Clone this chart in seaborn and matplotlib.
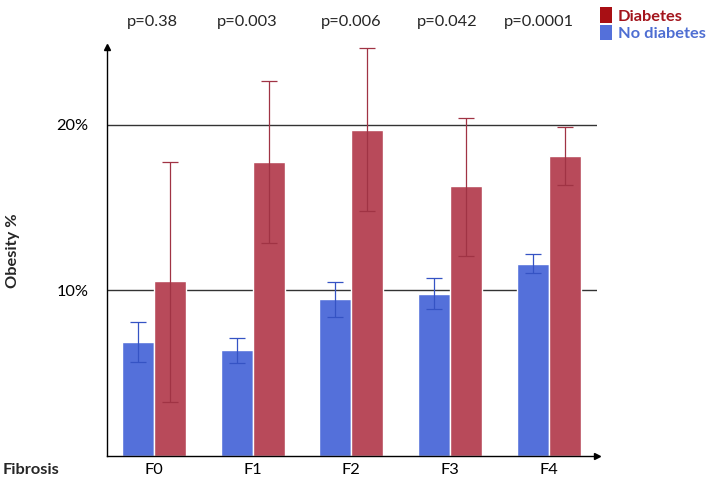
import matplotlib
matplotlib.use("Agg")
import matplotlib.pyplot as plt
import seaborn as sns
import pandas as pd
from matplotlib.patches import Patch

categories = ["F0", "F1", "F2", "F3", "F4"]
no_diab = [6.9, 6.4, 9.5, 9.8, 11.6]
no_diab_lo = [5.65, 5.63, 8.40, 8.85, 11.02]
no_diab_hi = [8.08, 7.14, 10.49, 10.72, 12.20]
diab = [10.55, 17.75, 19.7, 16.3, 18.1]
diab_lo = [3.28, 12.83, 14.76, 12.10, 16.36]
diab_hi = [17.75, 22.66, 24.65, 20.41, 19.84]
p_values = ["p=0.38", "p=0.003", "p=0.006", "p=0.042", "p=0.0001"]
y_ticks = [10, 20]
y_tick_labels = ["10%", "20%"]

BLUE = "#5470DA"
RED = "#B84A5A"
BLUE_ERR = "#3553C4"
RED_ERR = "#A03344"
FS = 11.8

sns.set_theme(style="white")
plt.rcParams["font.family"] = ["Lato", "DejaVu Sans"]

df = pd.DataFrame({
    "fibrosis": categories * 2,
    "obesity": no_diab + diab,
    "group": ["No diabetes"] * 5 + ["Diabetes"] * 5,
})

fig = plt.figure(figsize=(7.09, 4.82), dpi=100)
ax = fig.add_axes([0.1505, 0.054, 0.6915, 0.849])

sns.barplot(data=df, x="fibrosis", y="obesity", hue="group",
            hue_order=["No diabetes", "Diabetes"], order=categories,
            palette={"No diabetes": BLUE, "Diabetes": RED},
            width=0.65, errorbar=None, saturation=1, legend=False, ax=ax,
            zorder=2)

series = [(no_diab, no_diab_lo, no_diab_hi, BLUE_ERR),
          (diab, diab_lo, diab_hi, RED_ERR)]
for cont, (vals, lo, hi, col) in zip(ax.containers, series):
    xs = [b.get_x() + b.get_width() / 2 for b in cont]
    yerr = [[v - l for v, l in zip(vals, lo)], [h - v for v, h in zip(vals, hi)]]
    ax.errorbar(xs, vals, yerr=yerr, fmt="none", ecolor=col, elinewidth=0.9,
                capsize=5.8, capthick=0.9, zorder=3)

for yv in y_ticks:
    ax.axhline(yv, color="#333333", lw=1.0, zorder=0)

ax.set_xlim(-0.48, 4.49)
ax.set_ylim(0, 24.7)
ax.set_yticks(y_ticks)
ax.set_yticklabels(y_tick_labels)
ax.tick_params(axis="both", length=0, labelsize=FS, colors="black")
ax.tick_params(axis="y", pad=13)
ax.tick_params(axis="x", pad=5)
ax.set_xlabel("")
ax.set_ylabel("")
for s in ["top", "right"]:
    ax.spines[s].set_visible(False)
for s in ["left", "bottom"]:
    ax.spines[s].set_color("black")
    ax.spines[s].set_linewidth(1.0)
ax.plot(1, 0, ">", color="black", ms=4, transform=ax.transAxes, clip_on=False)
ax.plot(0, 1, "^", color="black", ms=4, transform=ax.transAxes, clip_on=False)

fig.text(3 / 709, 1 - 470 / 482, "Fibrosis", fontsize=FS, fontweight="bold",
         va="center", ha="left")
fig.text(13 / 709, 1 - 251 / 482, "Obesity %", fontsize=FS, fontweight="bold",
         rotation=90, va="center", ha="center")

p_x = [152, 247, 351, 447, 539]
for px, pt in zip(p_x, p_values):
    fig.text(px / 709, 1 - 22 / 482, pt, fontsize=FS, ha="center", va="center")

handles = [Patch(facecolor="#A80F14", edgecolor="none"),
           Patch(facecolor="#5470DA", edgecolor="none")]
leg = fig.legend(handles, ["Diabetes", "No diabetes"], loc="upper left",
                 bbox_to_anchor=(593 / 709, 1.0), frameon=False,
                 handlelength=0.7, handleheight=1.1, handletextpad=0.35,
                 labelspacing=0.05, borderaxespad=0.05,
                 prop={"weight": "bold", "size": FS})
for txt, col in zip(leg.get_texts(), ["#A3141C", "#4E6ED2"]):
    txt.set_color(col)

fig.savefig("out.png", dpi=100)
